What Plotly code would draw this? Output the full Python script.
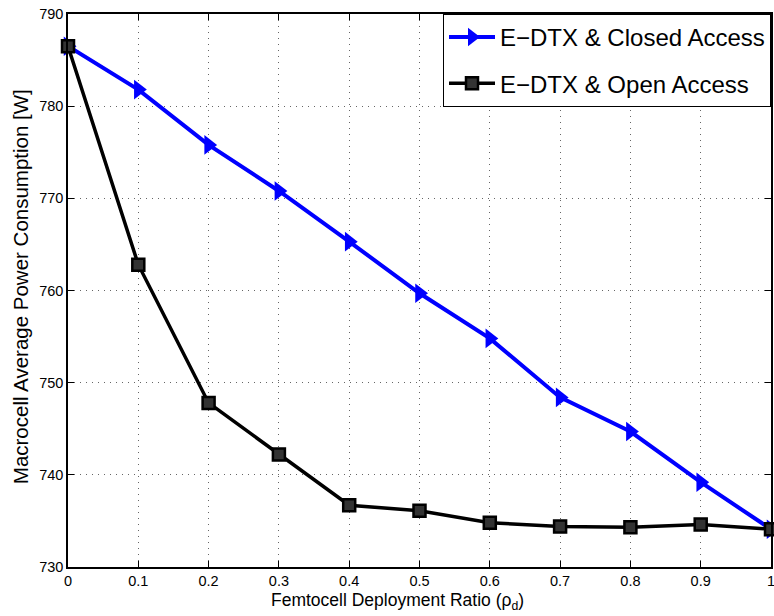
import plotly.graph_objects as go

ratio = [0, 0.1, 0.2, 0.3, 0.4, 0.5, 0.6, 0.7, 0.8, 0.9, 1.0]
closed_access = [786.5, 781.8, 775.8, 770.8, 765.3, 759.7, 754.8, 748.4, 744.7, 739.2, 734.1]
open_access = [786.5, 762.8, 747.8, 742.2, 736.7, 736.1, 734.8, 734.4, 734.3, 734.6, 734.1]

x_ticks = [0, 0.1, 0.2, 0.3, 0.4, 0.5, 0.6, 0.7, 0.8, 0.9, 1]
x_labels = ["0", "0.1", "0.2", "0.3", "0.4", "0.5", "0.6", "0.7", "0.8", "0.9", "1"]
y_ticks = [730, 740, 750, 760, 770, 780, 790]

fig = go.Figure()
fig.add_trace(go.Scatter(
    x=ratio, y=closed_access, mode="lines+markers",
    name="E\u2212DTX & Closed Access", legendgroup="closed",
    line=dict(color="#0000ff", width=4),
    marker=dict(symbol="triangle-right", size=17, color="#0000ff"),
    cliponaxis=False,
))
fig.add_trace(go.Scatter(
    x=ratio, y=open_access, mode="lines+markers",
    name="E\u2212DTX & Open Access", legendgroup="open",
    line=dict(color="black", width=3.5),
    marker=dict(symbol="square", size=12, color="#333333",
                line=dict(color="black", width=2.5)),
    cliponaxis=False,
))

axis_style = dict(
    showline=True, linecolor="black", linewidth=1.5, mirror="ticks",
    ticks="inside", ticklen=6, tickcolor="black",
    showgrid=True, gridcolor="#666666", griddash="1px,5px", gridwidth=1,
    zeroline=False, tickfont=dict(size=14.5, color="black"),
    ticklabeloverflow="allow", automargin=False,
)

fig.update_xaxes(range=[0, 1], tickvals=x_ticks, ticktext=x_labels, **axis_style)
fig.update_yaxes(range=[730, 790], tickvals=y_ticks, **axis_style)

# axis titles as annotations so they sit where MATLAB put them
fig.add_annotation(
    text="Femtocell Deployment Ratio (\u03c1<sub>d</sub>)",
    xref="paper", yref="paper", x=0.469, y=0, yshift=-34,
    xanchor="center", yanchor="middle", showarrow=False,
    font=dict(size=17.5, color="black"),
)
fig.add_annotation(
    text="Macrocell Average Power Consumption [W]",
    xref="paper", yref="paper", x=0, y=0.506, xshift=-48,
    xanchor="center", yanchor="middle", textangle=-90, showarrow=False,
    font=dict(size=20.5, color="black"),
)

fig.update_layout(
    width=774, height=616,
    margin=dict(l=68, r=3, t=14, b=49, autoexpand=False),
    plot_bgcolor="white", paper_bgcolor="white",
    font=dict(family="Liberation Sans, Arial, sans-serif", color="black"),
    legend=dict(
        x=1, y=1, xanchor="right", yanchor="top",
        bgcolor="white", bordercolor="black", borderwidth=1,
        font=dict(size=24, color="black"),
        itemwidth=46, tracegroupgap=12,
    ),
)

# drop the browser's default 8px body margin so the figure fills the window
fig.write_html("out.html", config={"displayModeBar": False},
               post_script="document.body.style.margin = '0';")
